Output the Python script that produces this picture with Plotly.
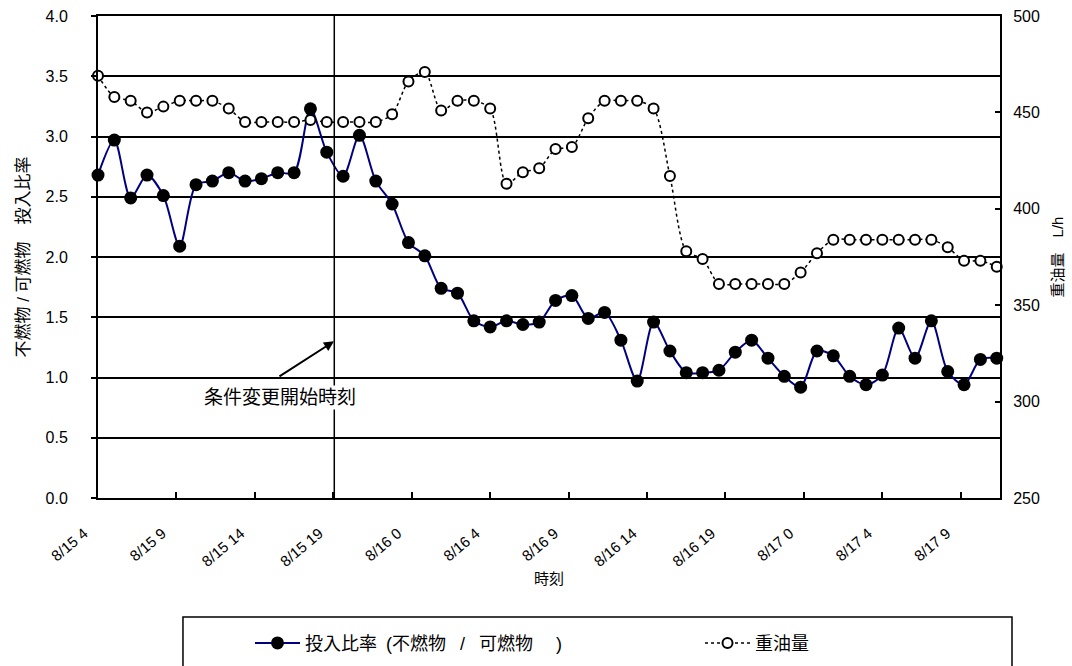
import plotly.graph_objects as go

# Hourly readings, hours elapsed since 8/15 4:00
hours = list(range(56))

# Input ratio (non-combustible / combustible)
ratio = [2.68, 2.97, 2.49, 2.68, 2.51, 2.09, 2.60, 2.63, 2.70, 2.63,
         2.65, 2.70, 2.70, 3.23, 2.87, 2.67, 3.01, 2.63, 2.44, 2.12,
         2.01, 1.74, 1.70, 1.47, 1.42, 1.47, 1.44, 1.46, 1.64, 1.68,
         1.49, 1.54, 1.31, 0.97, 1.46, 1.22, 1.04, 1.04, 1.06, 1.21,
         1.31, 1.16, 1.01, 0.92, 1.22, 1.18, 1.01, 0.94, 1.02, 1.41,
         1.16, 1.47, 1.05, 0.94, 1.15, 1.16]

# Heavy oil flow, L/h
oil = [469, 458, 456, 450, 453, 456, 456, 456, 452, 445,
       445, 445, 445, 446, 445, 445, 445, 445, 449, 466,
       471, 451, 456, 456, 452, 413, 419, 421, 431, 432,
       447, 456, 456, 456, 452, 417, 378, 374, 361, 361,
       361, 361, 361, 367, 377, 384, 384, 384, 384, 384,
       384, 384, 380, 373, 373, 370]

tick_hours = [0, 4.8, 9.6, 14.4, 19.2, 24.0, 28.8, 33.6, 38.4, 43.2, 48.0, 52.8]
tick_labels = ["8/15 4", "8/15 9", "8/15 14", "8/15 19", "8/16 0", "8/16 4",
               "8/16 9", "8/16 14", "8/16 19", "8/17 0", "8/17 4", "8/17 9"]

change_hour = 14.46
arrow_head = (14.44, 1.30)
note_pos = (11.14, 0.83)

FONT = "Liberation Sans, Arial, Noto Sans CJK JP, sans-serif"

fig = go.Figure()

fig.add_trace(go.Scatter(
    x=hours, y=ratio,
    name="投入比率\u2002(不燃物\u2002 /\u2002 可燃物\u3000 )",
    mode="lines+markers",
    line=dict(color="#000080", width=2, shape="spline", smoothing=0.8),
    marker=dict(symbol="circle", size=13, color="black"),
    cliponaxis=False, yaxis="y", legend="legend",
))

fig.add_trace(go.Scatter(
    x=hours, y=oil, name="重油量",
    mode="lines+markers",
    line=dict(color="black", width=1.5, dash="dot", shape="spline", smoothing=0.8),
    marker=dict(symbol="circle", size=10, color="white",
                line=dict(color="black", width=2)),
    cliponaxis=False, yaxis="y2", legend="legend2",
))

# condition change marker line
fig.add_shape(type="line", xref="x", yref="paper",
              x0=change_hour, x1=change_hour, y0=0, y1=1,
              line=dict(color="black", width=1.5))

# legend frame
fig.add_shape(type="rect", xref="paper", yref="paper",
              x0=0.0942, x1=1.0133, y0=-0.3776, y1=-0.2469,
              line=dict(color="black", width=1.5), fillcolor="rgba(0,0,0,0)")

fig.add_annotation(x=arrow_head[0], y=arrow_head[1], xref="x", yref="y",
                   ax=-56, ay=36, text="", showarrow=True,
                   arrowhead=2, arrowsize=1, arrowwidth=2, arrowcolor="black")
fig.add_annotation(x=note_pos[0], y=note_pos[1], xref="x", yref="y",
                   text="条件変更開始時刻", showarrow=False,
                   bgcolor="white", font=dict(size=19, color="black", family=FONT))

axis_line = dict(showline=True, linecolor="black", linewidth=2)
legend_common = dict(orientation="h", xref="container", yref="container",
                     xanchor="left", yanchor="top", font=dict(size=18),
                     bgcolor="rgba(0,0,0,0)", itemwidth=45)

fig.update_layout(
    width=1072, height=666,
    margin=dict(l=98, r=72, t=16, b=168),
    paper_bgcolor="white", plot_bgcolor="white",
    font=dict(family=FONT, color="black", size=15),
    showlegend=True,
    legend=dict(x=0.2332, y=0.062, **legend_common),
    legend2=dict(x=0.653, y=0.062, **legend_common),
    xaxis=dict(
        range=[0, 55.2], tickmode="array", tickvals=tick_hours, ticktext=tick_labels,
        tickangle=-40, ticks="inside", ticklen=6, tickwidth=1.5, tickcolor="black",
        ticklabelstandoff=19, ticklabelshift=-14, tickfont=dict(size=15),
        automargin=False, showgrid=False, zeroline=False, mirror=True,
        title=dict(text="時刻", font=dict(size=15), standoff=5),
        **axis_line,
    ),
    yaxis=dict(
        range=[0, 4.0], dtick=0.5, tickformat=".1f",
        ticks="outside", ticklen=5, tickwidth=1.5, tickcolor="black",
        ticklabelstandoff=20, tickfont=dict(size=16), automargin=False,
        showgrid=True, gridcolor="black", gridwidth=1.5, zeroline=False,
        title=dict(text="不燃物 / 可燃物　投入比率", font=dict(size=17), standoff=12),
        **axis_line,
    ),
    yaxis2=dict(
        range=[250, 500], dtick=50, overlaying="y", side="right",
        ticks="inside", ticklen=5, tickwidth=1.5, tickcolor="black",
        ticklabelstandoff=8, tickfont=dict(size=16), automargin=False,
        showgrid=False, zeroline=False,
        title=dict(text="重油量　L/h", font=dict(size=15), standoff=14),
        **axis_line,
    ),
)

fig.write_html("out.html")
